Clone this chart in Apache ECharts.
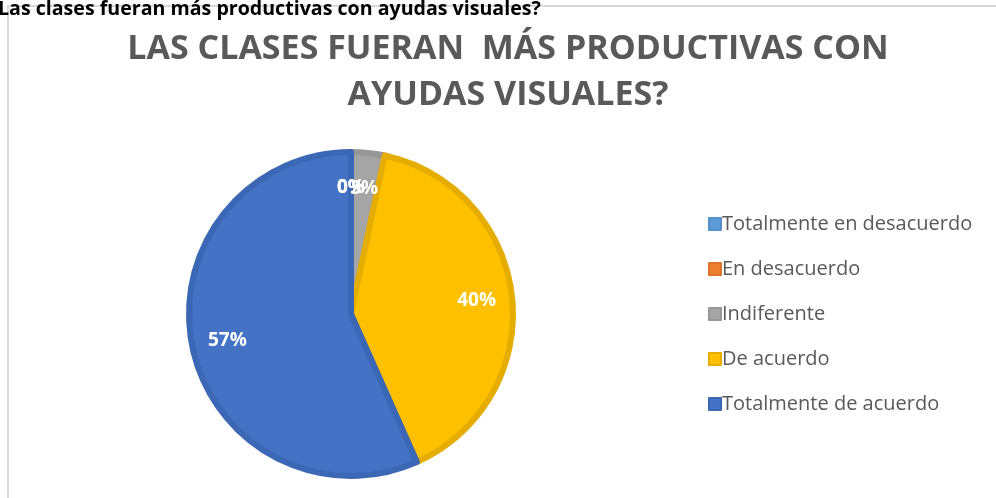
<!DOCTYPE html>
<html>
<head>
<meta charset="utf-8">
<script src="https://cdn.jsdelivr.net/npm/echarts@6/dist/echarts.min.js"></script>
<style>
  html, body { margin: 0; padding: 0; background: #fff; }
  #chart { width: 996px; height: 498px; }
</style>
</head>
<body>
<div id="chart"></div>
<script>
// respuestas (conteos aproximados leídos de los porcentajes)
const categories = ['Totalmente en desacuerdo', 'En desacuerdo', 'Indiferente', 'De acuerdo', 'Totalmente de acuerdo'];
const counts = [0, 0, 1, 12, 17];
const fillColors = ['#5B9BD5', '#ED7D31', '#A5A5A5', '#FFC000', '#4472C4'];
const edgeColors = ['#5590C8', '#DB7430', '#979797', '#E5AD00', '#3C67B4'];

const pageTitle = 'Las clases fueran más productivas con ayudas visuales?';
const chartTitle = 'LAS CLASES FUERAN  MÁS PRODUCTIVAS CON\nAYUDAS VISUALES?';

const chart = echarts.init(document.getElementById('chart'));

const total = counts.reduce((a, b) => a + b, 0);

const pieData = categories.map((name, i) => ({
  name: name,
  value: counts[i],
  itemStyle: { color: fillColors[i], borderColor: edgeColors[i] }
}));

// puntos de etiqueta: mitad de cada sector, en coordenadas polares (radio, ángulo)
let acc = 0;
const labelPoints = counts.map(v => {
  const mid = acc + v / 2;
  acc += v;
  return [0.78, mid, v];
});

const center = [351, 314];
const R = 162;

const option = {
  backgroundColor: '#fff',
  animation: false,
  polar: { center: center, radius: R },
  angleAxis: { type: 'value', min: 0, max: total, startAngle: 90, clockwise: true, show: false },
  radiusAxis: { type: 'value', min: 0, max: 1, show: false },
  legend: {
    orient: 'vertical',
    left: 703,
    top: 209,
    itemWidth: 12,
    itemHeight: 12,
    itemGap: 25,
    icon: 'rect',
    data: categories,
    textStyle: { fontFamily: 'Open Sans', fontSize: 20, color: '#595959', padding: [0, 0, 0, -4] }
  },
  graphic: [
    {
      type: 'rect',
      z: -1,
      shape: { x: 8, y: 6, width: 1000, height: 500 },
      style: { fill: 'none', stroke: '#d9d9d9', lineWidth: 2 }
    },
    {
      type: 'text',
      x: -2, y: -1,
      style: {
        text: pageTitle,
        font: 'bold 19.6px "Open Sans"',
        fill: '#000'
      }
    },
    {
      type: 'text',
      x: 508, y: 26,
      style: {
        text: chartTitle,
        font: 'bold 34px "Open Sans"',
        fill: '#595959',
        align: 'center',
        textAlign: 'center',
        lineHeight: 46
      }
    }
  ],
  series: [
    {
      type: 'pie',
      center: center,
      radius: [0, R],
      startAngle: 90,
      clockwise: true,
      silent: true,
      itemStyle: { borderWidth: 6 },
      label: { show: false },
      labelLine: { show: false },
      data: pieData
    },
    {
      // etiquetas de porcentaje
      type: 'scatter',
      coordinateSystem: 'polar',
      symbolSize: 1,
      silent: true,
      z: 10,
      itemStyle: { color: 'rgba(0,0,0,0)', opacity: 1 },
      label: {
        show: true,
        position: 'inside',
        formatter: p => Math.round(p.value[2] / total * 100) + '%',
        fontFamily: 'Open Sans',
        fontWeight: 'bold',
        fontSize: 19,
        color: '#ffffff',
        opacity: 1
      },
      data: labelPoints
    }
  ]
};

chart.setOption(option);
</script>
</body>
</html>
